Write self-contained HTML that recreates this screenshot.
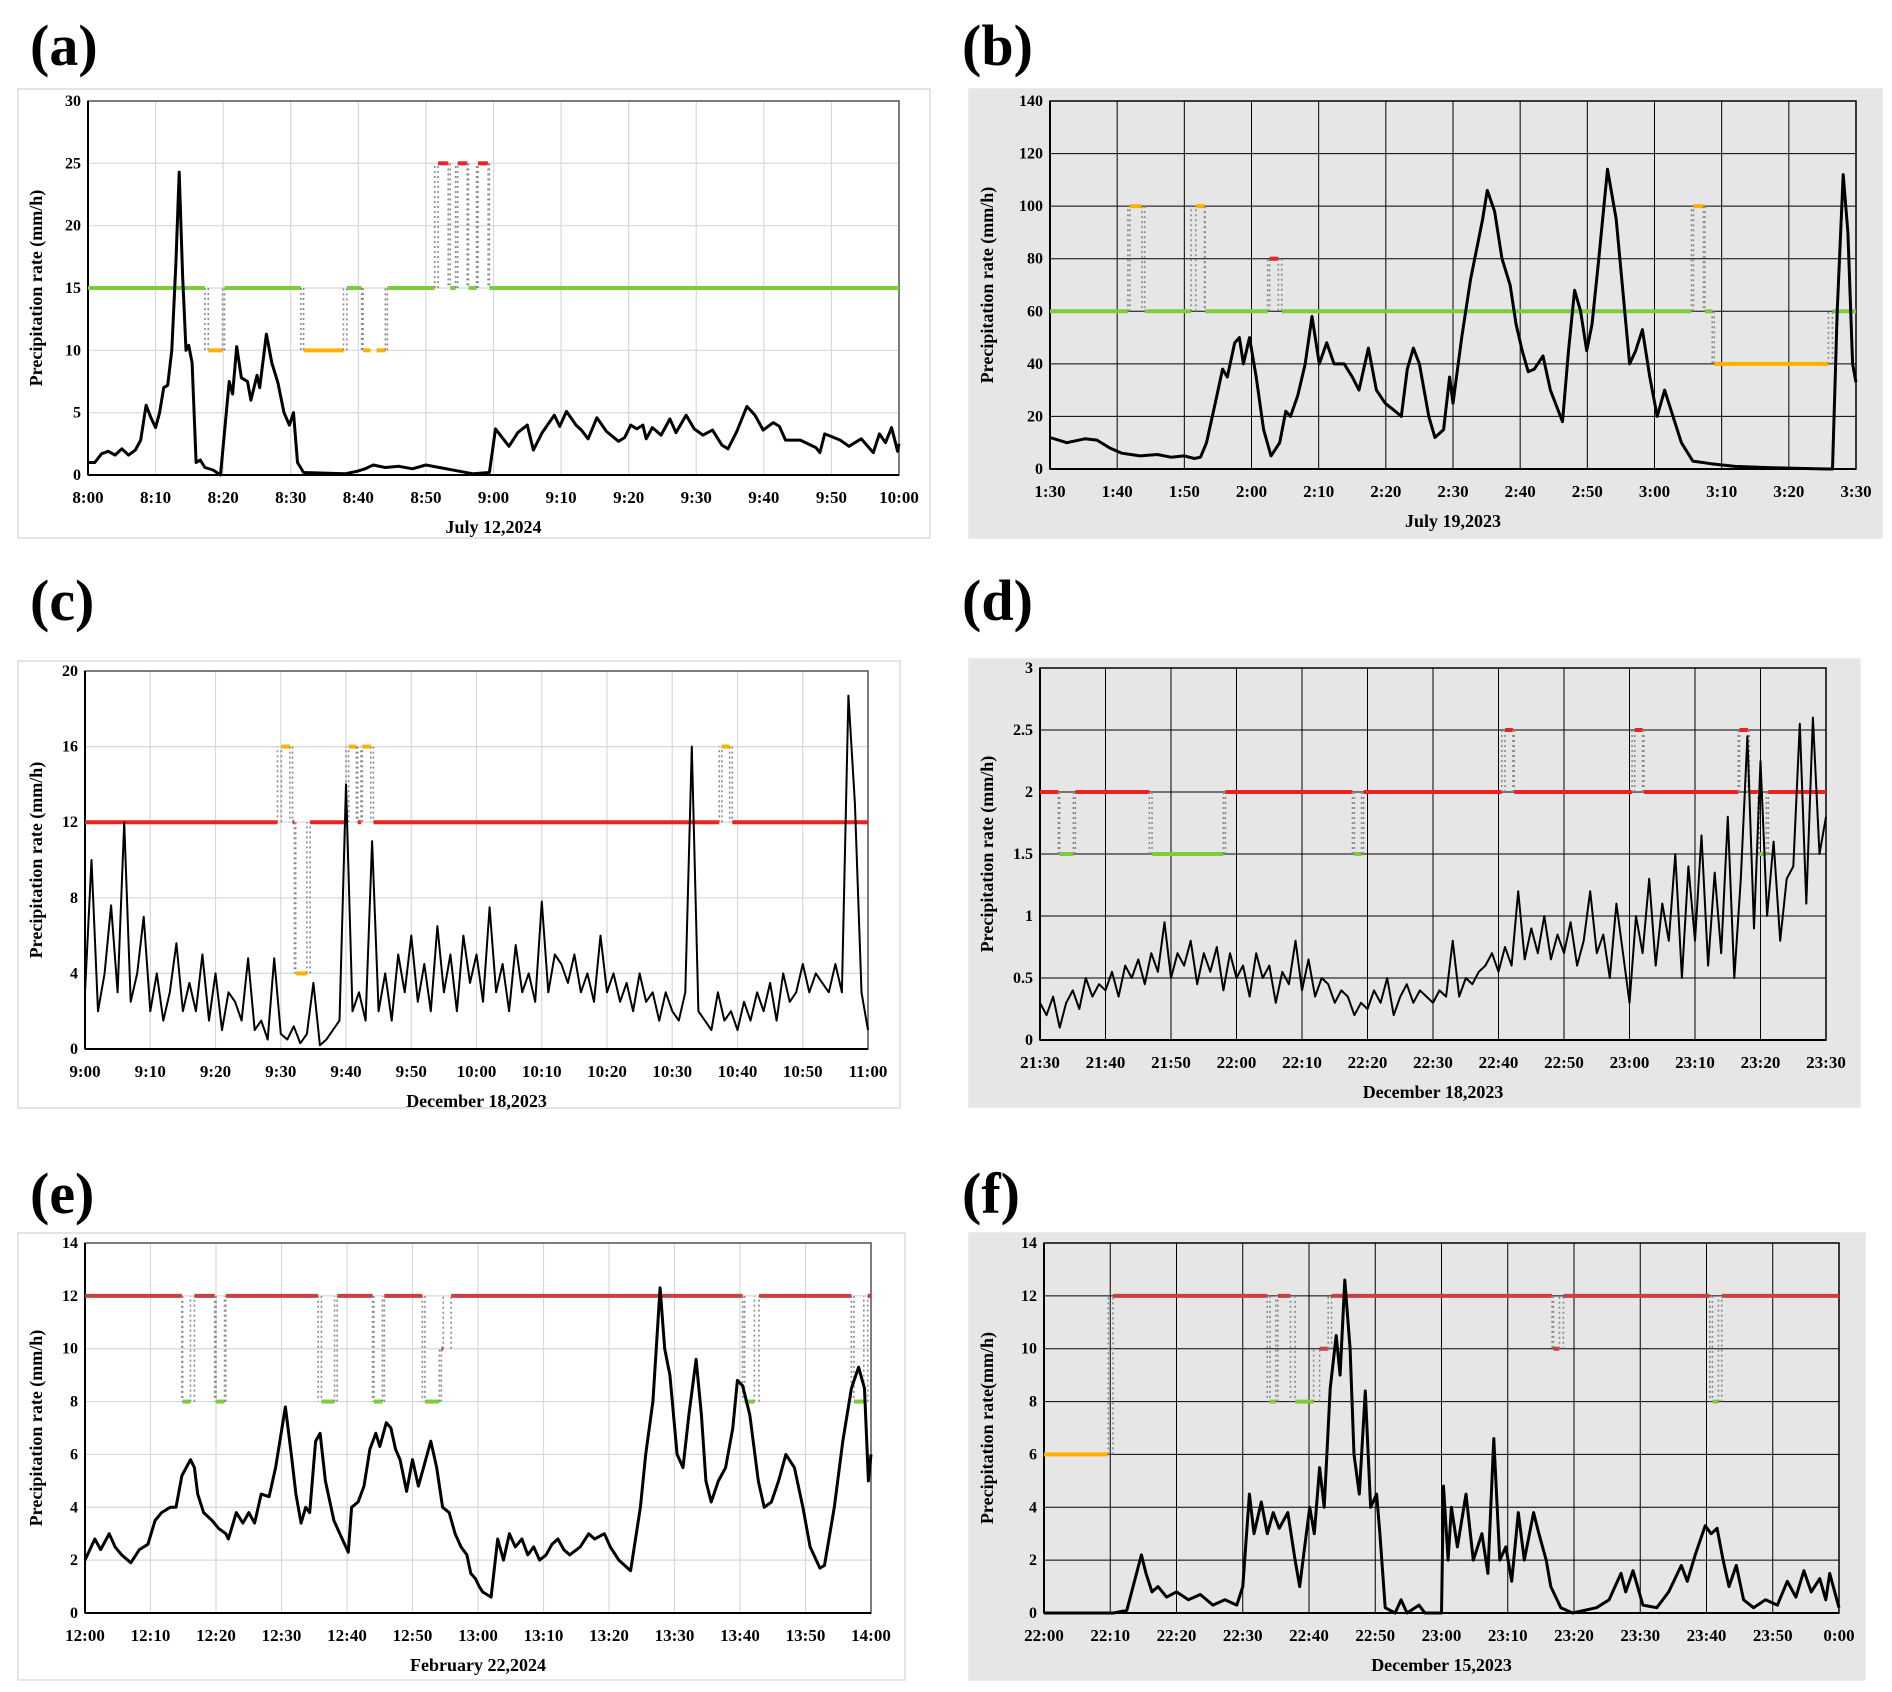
<!DOCTYPE html>
<html><head><meta charset="utf-8">
<style>
html,body{margin:0;padding:0;background:#fff;}
body{width:1892px;height:1692px;overflow:hidden;position:relative;font-family:"Liberation Serif",serif;}
svg{position:absolute;left:0;top:0;}
</style></head>
<body>
<svg id="fig" width="1892" height="1692" viewBox="0 0 1892 1692" xmlns="http://www.w3.org/2000/svg"></svg>
<script>
// ---- Panel (a) data: [minute, value]
const aSeries=[[0,1],[1,1],[2,1.7],[3,1.9],[4,1.6],[5,2.1],[6,1.6],[7,2],[7.8,2.8],[8.6,5.6],[9.3,4.6],[10,3.8],[10.6,5],[11.2,7],[11.8,7.2],[12.4,10],[13,17],[13.5,24.3],[14,16],[14.5,10],[14.9,10.4],[15.4,9],[16,1],[16.6,1.2],[17.3,0.6],[18.5,0.4],[19.6,0],[20.9,7.5],[21.4,6.5],[22,10.3],[22.7,7.8],[23.6,7.5],[24.1,6],[25,8],[25.4,7],[26.4,11.3],[27.2,9],[28.1,7.4],[29,5],[29.8,4],[30.4,5],[31,1],[31.9,0.2],[35,0.15],[38,0.1],[39.8,0.3],[41,0.5],[42.2,0.8],[44,0.6],[46,0.7],[48,0.5],[50,0.8],[52,0.6],[55,0.3],[57,0.1],[59.4,0.2],[60.3,3.7],[62.3,2.3],[63.6,3.4],[65,4],[65.9,2],[67.2,3.4],[69,4.8],[69.8,3.9],[70.8,5.1],[72.2,4],[73,3.6],[74,2.9],[75.3,4.6],[76.7,3.5],[78.5,2.7],[79.4,3],[80.3,4],[81.2,3.7],[82.1,4],[82.6,2.9],[83.5,3.8],[84.8,3.2],[86.1,4.5],[87,3.4],[88.5,4.8],[89.7,3.7],[91,3.2],[92.4,3.6],[93.8,2.4],[94.7,2.1],[96,3.5],[97.5,5.5],[98.7,4.8],[99.9,3.6],[101.4,4.2],[102.3,3.9],[103.2,2.8],[105.4,2.8],[107.7,2.2],[108.3,1.8],[109,3.3],[111.3,2.8],[112.6,2.3],[114.4,2.9],[116.2,1.8],[117.1,3.3],[118,2.6],[118.9,3.8],[119.8,1.9],[120,2.5]];
// threshold segments: [start, end, level, colour]
const aSegments=[[0,17.3,15,'g'],[17.8,19.9,10,'o'],[20.2,31.5,15,'g'],[31.9,37.8,10,'o'],[38.3,40.5,15,'g'],[40.7,41.8,10,'o'],[42.7,44,10,'o'],[44.3,51.3,15,'g'],[51.8,53.3,25,'r'],[53.6,54.4,15,'g'],[54.7,56.1,25,'r'],[56.3,57.5,15,'g'],[57.7,59.2,25,'r'],[59.4,120,15,'g']];
const aXTicks=['8:00','8:10','8:20','8:30','8:40','8:50','9:00','9:10','9:20','9:30','9:40','9:50','10:00'];
const aYTicks=[0,5,10,15,20,25,30];

// ---- Panel (b)
const bSeries=[[0,12],[2.5,10],[5.2,11.5],[7,11],[8.9,8],[10.7,6],[13.4,5],[16,5.5],[18,4.5],[20,5],[21.5,4],[22.4,4.5],[23.3,10],[24.6,25],[25.7,38],[26.4,35],[27.5,48],[28.2,50],[28.8,40],[29.7,50],[30.7,35],[31.8,15],[32.9,5],[34.2,10],[35.1,22],[35.8,20],[36.9,28],[38,40],[39,58],[40.1,40],[41.2,48],[42.3,40],[43.8,40],[45,35],[46,30],[47.4,46],[48.6,30],[49.9,25],[51.4,22],[52.3,20],[53.2,38],[54.1,46],[55,40],[56.4,20],[57.3,12],[58.6,15],[59.5,35],[60,25],[61.3,50],[62.6,72],[63.7,86],[64.4,95],[65.1,106],[66.2,98],[67.3,80],[68.5,70],[69.4,55],[70.3,45],[71.2,37],[72.1,38],[73.4,43],[74.5,30],[76.3,18],[77.2,45],[78.1,68],[79,60],[79.9,45],[80.7,55],[81.7,80],[83,114],[84.3,95],[85.2,70],[86.3,40],[87.2,45],[88.2,53],[89.3,35],[90.4,20],[91.5,30],[93,18],[94,10],[95.7,3],[98.4,2],[102,1],[107.5,0.5],[115.6,0],[116.5,0],[117.2,60],[118.1,112],[118.8,90],[119.5,40],[120,33]];
const bSegments=[[0,11.6,60,'g'],[11.9,13.7,100,'o'],[14.1,21,60,'g'],[21.7,23,100,'o'],[23.1,32.4,60,'g'],[32.7,34,80,'r'],[34.5,95.5,60,'g'],[95.8,97.3,100,'o'],[97.5,98.6,60,'g'],[98.9,115.9,40,'o'],[116.5,120,60,'g']];
const bXTicks=['1:30','1:40','1:50','2:00','2:10','2:20','2:30','2:40','2:50','3:00','3:10','3:20','3:30'];
const bYTicks=[0,20,40,60,80,100,120,140];

// ---- Panel (c) one value per minute
const cSeries=[3,10,2,4,7.6,3,12,2.5,4,7, 2,4,1.5,3,5.6,2,3.5,2,5,1.5, 4,1,3,2.5,1.5,4.8,1,1.5,0.5,4.8, 0.8,0.5,1.2,0.3,0.8,3.5,0.2,0.5,1,1.5, 14,2,3,1.5,11,2,4,1.5,5,3, 6,2.5,4.5,2,6.5,3,5,2,6,3.5, 5,2.5,7.5,3,4.5,2,5.5,3,4,2.5, 7.8,3,5,4.5,3.5,5,3,4,2.5,6, 3,4,2.5,3.5,2,4,2.5,3,1.5,3, 2,1.5,3,16,2,1.5,1,3,1.5,2, 1,2.5,1.5,3,2,3.5,1.5,4,2.5,3, 4.5,3,4,3.5,3,4.5,3,18.7,13,3, 1];
const cSegments=[[0,29.5,12,'r'],[30.1,31.4,16,'o'],[31.8,32.1,12,'r'],[32.3,34,4,'o'],[34.5,40,12,'r'],[40.4,41.6,16,'o'],[41.8,42.3,12,'r'],[42.5,43.8,16,'o'],[44.2,97.2,12,'r'],[97.6,98.8,16,'o'],[99.2,120,12,'r']];
const cXTicks=['9:00','9:10','9:20','9:30','9:40','9:50','10:00','10:10','10:20','10:30','10:40','10:50','11:00'];
const cYTicks=[0,4,8,12,16,20];

// ---- Panel (d) one value per minute
const dSeries=[0.3,0.2,0.35,0.1,0.3,0.4,0.25,0.5,0.35,0.45, 0.4,0.55,0.35,0.6,0.5,0.65,0.45,0.7,0.55,0.95, 0.5,0.7,0.6,0.8,0.45,0.7,0.55,0.75,0.4,0.7, 0.5,0.6,0.35,0.7,0.5,0.6,0.3,0.55,0.45,0.8, 0.4,0.65,0.35,0.5,0.45,0.3,0.4,0.35,0.2,0.3, 0.25,0.4,0.3,0.5,0.2,0.35,0.45,0.3,0.4,0.35, 0.3,0.4,0.35,0.8,0.35,0.5,0.45,0.55,0.6,0.7, 0.55,0.75,0.6,1.2,0.65,0.9,0.7,1.0,0.65,0.85, 0.7,0.95,0.6,0.8,1.2,0.7,0.85,0.5,1.1,0.7, 0.3,1.0,0.7,1.3,0.6,1.1,0.8,1.5,0.5,1.4, 0.8,1.65,0.6,1.35,0.7,1.8,0.5,1.3,2.45,0.9, 2.25,1.0,1.6,0.8,1.3,1.4,2.55,1.1,2.6,1.5, 1.8];
const dSegments=[[0,2.8,2,'r'],[3,5.1,1.5,'g'],[5.4,16.7,2,'r'],[17.1,28,1.5,'g'],[28.3,47.7,2,'r'],[48,49.1,1.5,'g'],[49.4,70.5,2,'r'],[71,72.2,2.5,'r'],[72.4,90.4,2,'r'],[90.8,92,2.5,'r'],[92.2,106.6,2,'r'],[106.8,108.1,2.5,'r'],[108.3,109.6,2,'r'],[109.8,110.9,1.5,'g'],[111.2,120,2,'r']];
const dXTicks=['21:30','21:40','21:50','22:00','22:10','22:20','22:30','22:40','22:50','23:00','23:10','23:20','23:30'];
const dYTicks=[0,0.5,1,1.5,2,2.5,3];

// ---- Panel (e)
const eSeries=[[0,2],[1.5,2.8],[2.4,2.4],[3.7,3],[4.6,2.5],[5.6,2.2],[7,1.9],[8.3,2.4],[9.6,2.6],[10.7,3.5],[11.7,3.8],[13,4],[13.9,4],[14.8,5.2],[16.1,5.8],[16.7,5.5],[17.2,4.5],[18.1,3.8],[19.4,3.5],[20.4,3.2],[21.5,3],[21.9,2.8],[23.1,3.8],[24.1,3.4],[25,3.8],[25.9,3.4],[26.9,4.5],[28.1,4.4],[29.1,5.5],[30.6,7.8],[31.5,6],[32.2,4.5],[33,3.4],[33.7,4],[34.3,3.8],[35.2,6.5],[35.9,6.8],[36.7,5],[38,3.5],[38.9,3],[40.2,2.3],[40.7,4],[41.7,4.2],[42.6,4.8],[43.5,6.2],[44.4,6.8],[45,6.3],[46,7.2],[46.7,7],[47.4,6.2],[48.1,5.8],[49.1,4.6],[50,5.8],[50.9,4.8],[52.8,6.5],[53.7,5.5],[54.6,4],[55.6,3.8],[56.5,3],[57.4,2.5],[58.3,2.2],[58.9,1.5],[59.6,1.3],[60.2,1],[60.7,0.8],[62,0.6],[63,2.8],[63.9,2],[64.8,3],[65.7,2.5],[66.7,2.8],[67.6,2.2],[68.5,2.5],[69.4,2],[70.4,2.2],[71.3,2.6],[72.2,2.8],[73.1,2.4],[74,2.2],[75.6,2.5],[76.9,3],[77.8,2.8],[79.3,3],[80.2,2.5],[81.5,2],[83.3,1.6],[84.8,4],[85.6,6],[86.7,8],[87.8,12.3],[88.5,10],[89.3,9],[90.4,6],[91.3,5.5],[92.2,7.5],[93.3,9.6],[94.1,7.5],[94.8,5],[95.6,4.2],[96.7,5],[97.8,5.5],[98.9,7],[99.6,8.8],[100.4,8.6],[101.5,7.5],[102.8,5],[103.7,4],[104.8,4.2],[105.9,5],[107,6],[108.3,5.5],[109.6,4],[110.7,2.5],[112.2,1.7],[112.9,1.8],[114.4,4],[115.7,6.5],[117,8.5],[118.1,9.3],[119,8.5],[119.6,5],[120,6]];
const eSegments=[[0,14.8,12,'r'],[14.9,16.1,8,'g'],[16.7,19.8,12,'r'],[20,21.3,8,'g'],[21.5,35.6,12,'r'],[36.1,38.1,8,'g'],[38.5,43.9,12,'r'],[44.1,45.4,8,'g'],[45.7,51.5,12,'r'],[51.9,54.1,8,'g'],[54.4,54.7,10,'r'],[55.9,100.4,12,'r'],[100.7,102.2,8,'g'],[102.9,117,12,'r'],[117.4,118.9,8,'g'],[119.5,120,12,'r']];
const eXTicks=['12:00','12:10','12:20','12:30','12:40','12:50','13:00','13:10','13:20','13:30','13:40','13:50','14:00'];
const eYTicks=[0,2,4,6,8,10,12,14];

// ---- Panel (f)
const fSeries=[[0,0],[10.5,0],[12.5,0.1],[14.7,2.2],[15.4,1.5],[16.3,0.8],[17.2,1],[18.5,0.6],[20,0.8],[21.8,0.5],[23.6,0.7],[25.5,0.3],[27.3,0.5],[29.1,0.3],[30,1],[31,4.5],[31.7,3],[32.8,4.2],[33.7,3],[34.6,3.8],[35.5,3.2],[36.8,3.8],[37.9,2],[38.6,1],[39.1,2],[40.1,4],[40.8,3],[41.6,5.5],[42.3,4],[43.2,8.5],[44.1,10.5],[44.7,9],[45.4,12.6],[46.2,10],[46.8,6],[47.6,4.5],[48.5,8.4],[49.3,4],[50.2,4.5],[50.7,3],[51.5,0.2],[53,0],[53.9,0.5],[54.8,0],[56.6,0.3],[57.5,0],[60,0],[60.3,4.8],[61,2],[61.5,4],[62.4,2.5],[63.7,4.5],[64.8,2],[66.1,3],[67,1.5],[67.9,6.6],[68.8,2],[69.7,2.5],[70.6,1.2],[71.6,3.8],[72.5,2],[73.9,3.8],[74.7,3],[75.8,2],[76.5,1],[78,0.2],[79.8,0],[83.4,0.2],[85.3,0.5],[87.1,1.5],[87.8,0.8],[88.9,1.6],[90.4,0.3],[92.5,0.2],[94.3,0.8],[96.2,1.8],[97.1,1.2],[98.3,2.2],[99.8,3.3],[100.7,3],[101.6,3.2],[102.5,2],[103.4,1],[104.5,1.8],[105.6,0.5],[107.1,0.2],[108.9,0.5],[110.7,0.3],[112.2,1.2],[113.5,0.6],[114.7,1.6],[115.8,0.8],[117.1,1.3],[118,0.5],[118.6,1.5],[120,0.2]];
const fSegments=[[0,9.7,6,'o'],[10.4,33.7,12,'r'],[34.1,35,8,'g'],[35.3,37.2,12,'r'],[37.9,40.7,8,'g'],[41.6,42.9,10,'r'],[43.4,76.7,12,'r'],[76.9,77.8,10,'r'],[78.4,100.5,12,'r'],[100.9,101.8,8,'g'],[102.3,120,12,'r']];
const fXTicks=['22:00','22:10','22:20','22:30','22:40','22:50','23:00','23:10','23:20','23:30','23:40','23:50','0:00'];
const fYTicks=[0,2,4,6,8,10,12,14];

const NS='http://www.w3.org/2000/svg';
const svg=document.getElementById('fig');
function mk(tag,attrs,parent){const e=document.createElementNS(NS,tag);for(const k in attrs)e.setAttribute(k,attrs[k]);(parent||svg).appendChild(e);return e;}
const COL={g:'#7ccc3c',o:'#ffb000',r:'#ee2020'};
const COLE={g:'#7ccc3c',o:'#ffb000',r:'#c84040'};

function panel(p){
  const g=mk('g',{});
  
  
  const lab=mk('text',{x:p.lx,y:p.ly,'font-size':58,'font-weight':'bold','font-family':'"Liberation Serif",serif'},g);
  lab.textContent='('+p.id+')';
  
  
  const fr=mk('rect',{x:p.fx,y:p.fy,width:p.fw,height:p.fh,fill:p.gray?'#e6e6e6':'#fff',stroke:p.gray?'#e6e6e6':'#dcdcdc','stroke-width':1.5},g);
  
  
  const X0=p.px,X1=p.px+p.pw,Y0=p.py+p.ph,Y1=p.py;
  const ymax=p.yt[p.yt.length-1];
  const xs=m=>X0+m/120*(X1-X0);
  const ys=v=>Y0-v/ymax*(Y0-Y1);
  const gridC=p.gray?'#000':'#d8d8d8', gw=p.gray?1:1.2;
  for(let i=0;i<p.xt.length;i++){
    const x=xs(i*10);
    const l=mk('line',{x1:x,x2:x,y1:Y1,y2:Y0,stroke:gridC,'stroke-width':gw},g);
    
    
    const t=mk('text',{x:x,y:Y0+28,'text-anchor':'middle','font-size':17,'font-weight':'bold'},g);
    t.textContent=p.xt[i];
    
    
  }
  p.yt.forEach(v=>{
    const y=ys(v);
    const l=mk('line',{x1:X0,x2:X1,y1:y,y2:y,stroke:gridC,'stroke-width':gw},g);
    
    
    const t=mk('text',{x:X0-7,y:y+5,'text-anchor':'end','font-size':16,'font-weight':'bold'},g);
    t.textContent=v;
    
    
  });
  const bx=mk('rect',{x:X0,y:Y1,width:X1-X0,height:Y0-Y1,fill:'none',stroke:p.gray?'#000':'#555','stroke-width':1.5},g);
  
  
  const ax=mk('line',{x1:X0,x2:X0,y1:Y1,y2:Y0,stroke:'#000','stroke-width':2},g);
  
  
  const ax2=mk('line',{x1:X0,x2:X1,y1:Y0,y2:Y0,stroke:'#000','stroke-width':2},g);
  
  
  const segs=p.seg;
  for(let i=0;i<segs.length;i++){
    const s=segs[i];
    const l=mk('line',{x1:xs(s[0]),x2:xs(s[1]),y1:ys(s[2]),y2:ys(s[2]),stroke:(p.id==='e'||p.id==='f')?COLE[s[3]]:COL[s[3]],'stroke-width':4},g);
    
    
    if(i<segs.length-1){
      const n=segs[i+1];
      if(n[2]!==s[2]){
        [s[1],n[0]].forEach(mx=>{
          const c=mk('line',{x1:xs(mx),x2:xs(mx),y1:ys(s[2]),y2:ys(n[2]),stroke:'#8a8a8a','stroke-width':1.6,'stroke-dasharray':'2,3'},g);
          
          
        });
      }
    }
  }
  let d='';
  p.data.forEach((pt,i)=>{
    const m=Array.isArray(pt)?pt[0]:i, v=Array.isArray(pt)?pt[1]:pt;
    d+=(i?'L':'M')+xs(m).toFixed(1)+','+ys(v).toFixed(1);
  });
  const ln=mk('path',{d:d,fill:'none',stroke:'#000','stroke-width':p.sw||3,'stroke-linejoin':'round'},g);
  
  
  const xt=mk('text',{x:(X0+X1)/2,y:Y0+58,'text-anchor':'middle','font-size':18,'font-weight':'bold'},g);
  xt.textContent=p.xl;
  
  
  const cy=(Y0+Y1)/2, tx=p.fx+24;
  const yt=mk('text',{x:tx,y:cy,'text-anchor':'middle','font-size':18,'font-weight':'bold',transform:'rotate(-90 '+tx+' '+cy+')'},g);
  yt.textContent=p.yl;
  
  
}
const YL='Precipitation rate (mm/h)';
panel({id:'a',lx:30,ly:65,fx:18,fy:89,fw:912,fh:449,px:88,py:101,pw:811,ph:374,gray:false,xt:aXTicks,yt:aYTicks,seg:aSegments,data:aSeries,xl:'July 12,2024',yl:YL});
panel({id:'b',lx:962,ly:65,fx:969,fy:89,fw:913,fh:449,px:1050,py:101,pw:806,ph:368,gray:true,xt:bXTicks,yt:bYTicks,seg:bSegments,data:bSeries,xl:'July 19,2023',yl:YL});
panel({id:'c',lx:30,ly:620,fx:18,fy:661,fw:882,fh:447,px:85,py:671,pw:783,ph:378,gray:false,xt:cXTicks,yt:cYTicks,seg:cSegments,data:cSeries,xl:'December 18,2023',yl:YL,sw:2});
panel({id:'d',lx:962,ly:620,fx:969,fy:659,fw:891,fh:448,px:1040,py:668,pw:786,ph:372,gray:true,xt:dXTicks,yt:dYTicks,seg:dSegments,data:dSeries,xl:'December 18,2023',yl:YL,sw:2});
panel({id:'e',lx:30,ly:1213,fx:18,fy:1233,fw:887,fh:447,px:85,py:1243,pw:786,ph:370,gray:false,xt:eXTicks,yt:eYTicks,seg:eSegments,data:eSeries,xl:'February 22,2024',yl:YL});
panel({id:'f',lx:962,ly:1213,fx:969,fy:1233,fw:896,fh:447,px:1044,py:1243,pw:795,ph:370,gray:true,xt:fXTicks,yt:fYTicks,seg:fSegments,data:fSeries,xl:'December 15,2023',yl:'Precipitation rate(mm/h)'});
</script>
</body></html>
